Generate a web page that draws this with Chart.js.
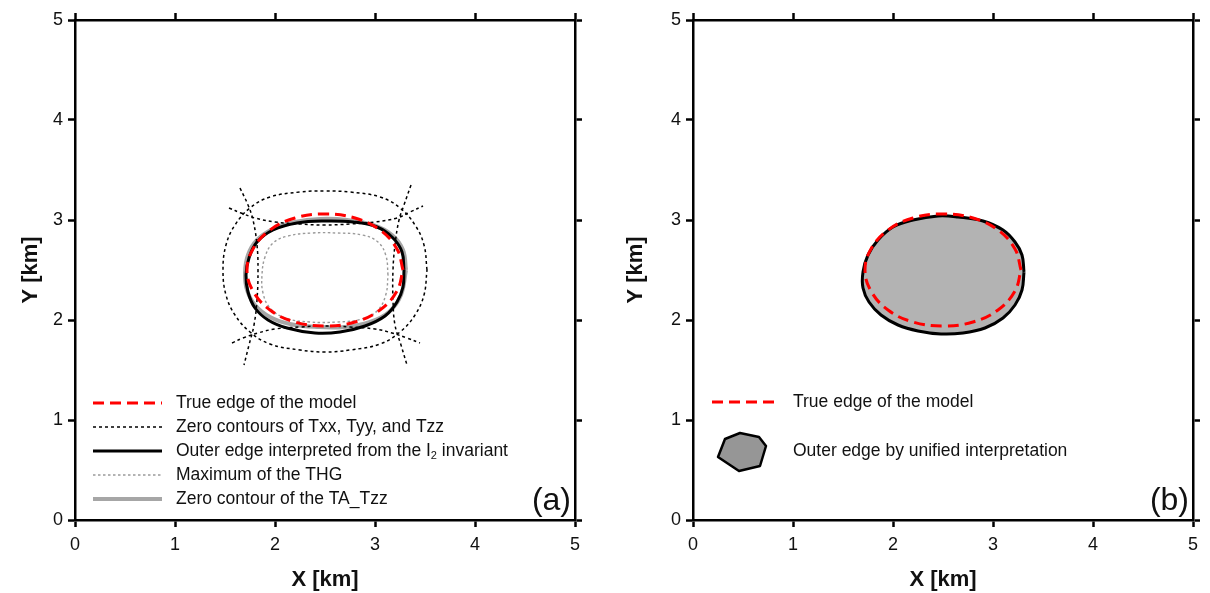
<!DOCTYPE html>
<html>
<head>
<meta charset="utf-8">
<script src="https://cdn.jsdelivr.net/npm/chart.js@4.4.1/dist/chart.umd.min.js"></script>
<style>
  html, body { margin: 0; padding: 0; background: #fff; }
  #wrap { position: relative; width: 1210px; height: 593px; }
  canvas { position: absolute; top: 0; }
  #chartA { left: 0; }
  #chartB { left: 605px; }
</style>
</head>
<body>
<div id="wrap">
  <canvas id="chartA" width="605" height="593"></canvas>
  <canvas id="chartB" width="605" height="593"></canvas>
</div>
<script>
// axis ticks (km)
const tickValues = [0, 1, 2, 3, 4, 5];

// true edge of the model (both panels)
const trueEdgeX = [3.28, 3.22, 3.05, 2.80, 2.50, 2.20, 1.95, 1.78, 1.72, 1.78, 1.95, 2.20, 2.50, 2.80, 3.05, 3.22, 3.28];
const trueEdgeY = [2.50, 2.71, 2.90, 3.02, 3.06, 3.02, 2.90, 2.71, 2.50, 2.29, 2.10, 1.98, 1.94, 1.98, 2.10, 2.29, 2.50];

// zero contours of Txx, Tyy, Tzz
const tzzLoopX = [3.52, 3.49, 3.40, 3.25, 3.05, 2.75, 2.50, 2.25, 1.95, 1.75, 1.60, 1.51, 1.48, 1.51, 1.60, 1.75, 1.95, 2.25, 2.50, 2.75, 3.05, 3.25, 3.40, 3.49, 3.52];
const tzzLoopY = [2.50, 2.75, 2.95, 3.12, 3.23, 3.28, 3.29, 3.28, 3.23, 3.12, 2.95, 2.75, 2.50, 2.25, 2.05, 1.88, 1.76, 1.70, 1.68, 1.70, 1.76, 1.88, 2.05, 2.25, 2.50];
const txxLeftX = [1.65, 1.73, 1.78, 1.82, 1.83, 1.82, 1.79, 1.74, 1.69];
const txxLeftY = [3.32, 3.15, 3.00, 2.75, 2.50, 2.20, 1.95, 1.75, 1.55];
const txxRightX = [3.36, 3.29, 3.24, 3.20, 3.18, 3.18, 3.20, 3.26, 3.32];
const txxRightY = [3.35, 3.15, 3.00, 2.75, 2.50, 2.20, 1.95, 1.75, 1.55];
const tyyTopX = [1.54, 1.66, 1.80, 2.00, 2.25, 2.50, 2.75, 3.00, 3.22, 3.35, 3.48];
const tyyTopY = [3.12, 3.07, 3.02, 2.98, 2.96, 2.95, 2.96, 2.98, 3.02, 3.08, 3.14];
const tyyBottomX = [1.57, 1.68, 1.83, 2.00, 2.25, 2.50, 2.75, 3.00, 3.17, 3.32, 3.45];
const tyyBottomY = [1.77, 1.82, 1.87, 1.91, 1.93, 1.94, 1.93, 1.91, 1.87, 1.82, 1.77];

// outer edge from the I2 invariant
const i2EdgeX = [3.29, 3.27, 3.18, 3.02, 2.78, 2.50, 2.22, 1.98, 1.82, 1.74, 1.71, 1.73, 1.80, 1.93, 2.12, 2.40, 2.65, 2.90, 3.10, 3.22, 3.28, 3.29];
const i2EdgeY = [2.50, 2.68, 2.82, 2.93, 2.98, 2.99, 2.97, 2.90, 2.78, 2.62, 2.45, 2.28, 2.12, 2.00, 1.92, 1.87, 1.88, 1.94, 2.04, 2.18, 2.33, 2.50];

// maximum of the THG
const thgX = [3.13, 3.11, 3.03, 2.87, 2.62, 2.37, 2.13, 1.98, 1.90, 1.87, 1.88, 1.95, 2.10, 2.35, 2.62, 2.87, 3.03, 3.11, 3.13];
const thgY = [2.45, 2.64, 2.78, 2.85, 2.87, 2.87, 2.84, 2.77, 2.63, 2.45, 2.27, 2.12, 2.02, 1.98, 1.98, 2.01, 2.10, 2.26, 2.45];

// zero contour of the TA_Tzz
const taTzzX = [3.31, 3.28, 3.17, 2.98, 2.72, 2.45, 2.20, 1.98, 1.82, 1.73, 1.70, 1.72, 1.80, 1.95, 2.15, 2.42, 2.70, 2.95, 3.14, 3.26, 3.31];
const taTzzY = [2.50, 2.70, 2.85, 2.95, 3.00, 3.01, 2.98, 2.91, 2.80, 2.65, 2.47, 2.30, 2.15, 2.03, 1.96, 1.93, 1.93, 1.98, 2.08, 2.25, 2.50];

// panel (b): outer edge by unified interpretation
const unifiedX = [3.31, 3.29, 3.22, 3.10, 2.90, 2.65, 2.45, 2.20, 2.00, 1.85, 1.75, 1.70, 1.70, 1.76, 1.88, 2.05, 2.25, 2.48, 2.70, 2.92, 3.10, 3.22, 3.29, 3.31];
const unifiedY = [2.48, 2.65, 2.78, 2.90, 2.99, 3.03, 3.04, 3.00, 2.93, 2.80, 2.65, 2.48, 2.32, 2.18, 2.05, 1.95, 1.89, 1.86, 1.87, 1.92, 2.02, 2.15, 2.30, 2.48];

const FONT = "'Liberation Sans', Arial, sans-serif";
const pts = (xs, ys) => xs.map((x, i) => ({ x: x, y: ys[i] }));

function curve(label, xs, ys, color, width, dash, extra) {
  return Object.assign({
    label: label,
    data: pts(xs, ys),
    showLine: true,
    borderColor: color,
    backgroundColor: color,
    borderWidth: width,
    borderDash: dash,
    pointRadius: 0,
    tension: 0.4,
    fill: false
  }, extra || {});
}

function axis(pos, showLabels, size, title) {
  const s = {
    type: 'linear', position: pos, min: 0, max: 5,
    border: { color: '#000', width: 2.5 },
    grid: { drawOnChartArea: false, drawTicks: true, tickLength: 7, tickWidth: 2.5, tickColor: '#000' },
    ticks: {
      display: showLabels, stepSize: 1, color: '#111',
      font: { family: FONT, size: 18 },
      padding: pos === 'bottom' ? 7 : 5,
      callback: v => tickValues.includes(v) ? String(v) : ''
    },
    afterFit: sc => { if (sc.isHorizontal()) sc.height = size; else sc.width = size; }
  };
  if (title) {
    s.title = {
      display: true, text: title, color: '#111',
      font: { family: FONT, size: 22, weight: 'bold', lineHeight: 1.2 },
      padding: { top: pos === 'bottom' ? 3 : 18, bottom: 0 }
    };
  }
  return s;
}

const boxLegend = {
  id: 'boxLegend',
  afterDraw(chart, args, opts) {
    const ctx = chart.ctx;
    const left = chart.chartArea.left;
    ctx.save();
    let row = 0;
    chart.data.datasets.forEach(ds => {
      if (!ds.inLegend) return;
      const y = opts.y0 + row * opts.dy;
      row++;
      if (ds.icon === 'hexagon') {
        const hx = [32, 47, 66, 73, 67, 46, 25];
        const hy = [-12, -18, -14, -5, 15, 20, 6];
        ctx.beginPath();
        hx.forEach((v, i) => i ? ctx.lineTo(left + v, y + hy[i]) : ctx.moveTo(left + v, y + hy[i]));
        ctx.closePath();
        ctx.fillStyle = '#969696';
        ctx.fill();
        ctx.lineWidth = 2.5;
        ctx.strokeStyle = '#000';
        ctx.lineJoin = 'round';
        ctx.stroke();
      } else {
        ctx.beginPath();
        ctx.setLineDash(ds.borderDash || []);
        ctx.lineWidth = ds.legendWidth || ds.borderWidth;
        ctx.strokeStyle = ds.borderColor;
        ctx.moveTo(left + opts.x0, y);
        ctx.lineTo(left + opts.x1, y);
        ctx.stroke();
        ctx.setLineDash([]);
      }
      // text, odd parts are subscripts
      const parts = Array.isArray(ds.legendText) ? ds.legendText : [ds.label];
      let tx = left + opts.tx;
      ctx.fillStyle = '#111';
      ctx.textAlign = 'left';
      ctx.textBaseline = 'middle';
      parts.forEach((p, i) => {
        const sub = i % 2 === 1;
        ctx.font = (sub ? 11 : 17.5) + 'px ' + FONT;
        ctx.fillText(p, tx, sub ? y + 5 : y);
        tx += ctx.measureText(p).width;
      });
    });
    // panel tag
    ctx.font = '32px ' + FONT;
    ctx.textAlign = 'right';
    ctx.textBaseline = 'alphabetic';
    ctx.fillStyle = '#111';
    ctx.fillText(opts.tag, chart.chartArea.right - 4, chart.chartArea.bottom - 10);
    ctx.restore();
  }
};

function baseOptions(leftW, rightW, legendOpts) {
  return {
    responsive: false,
    animation: false,
    devicePixelRatio: 1,
    layout: { padding: 0 },
    plugins: { legend: { display: false }, tooltip: { enabled: false }, boxLegend: legendOpts },
    scales: {
      x: axis('bottom', true, 73, 'X [km]'),
      x2: axis('top', false, 20),
      y: axis('left', true, leftW, 'Y [km]'),
      y2: axis('right', false, rightW)
    }
  };
}

const RED = '#ff0000';
const dotted = [3, 3];

new Chart(document.getElementById('chartA'), {
  type: 'scatter',
  data: {
    datasets: [
      curve('True edge of the model', trueEdgeX, trueEdgeY, RED, 3, [11, 6], { inLegend: true }),
      curve('Zero contours of Txx, Tyy, and Tzz', tzzLoopX, tzzLoopY, '#000', 1.5, dotted, { inLegend: true }),
      curve('Txx left', txxLeftX, txxLeftY, '#000', 1.5, dotted),
      curve('Txx right', txxRightX, txxRightY, '#000', 1.5, dotted),
      curve('Tyy top', tyyTopX, tyyTopY, '#000', 1.5, dotted),
      curve('Tyy bottom', tyyBottomX, tyyBottomY, '#000', 1.5, dotted),
      curve('Outer edge interpreted from the I2 invariant', i2EdgeX, i2EdgeY, '#000', 3, [],
        { inLegend: true, legendText: ['Outer edge interpreted from the I', '2', ' invariant'] }),
      curve('Maximum of the THG', thgX, thgY, '#9a9a9a', 1.4, [2.5, 2.5], { inLegend: true }),
      curve('Zero contour of the TA_Tzz', taTzzX, taTzzY, '#a6a6a6', 4, [], { inLegend: true })
    ]
  },
  options: baseOptions(75, 30, { x0: 18, x1: 87, tx: 101, y0: 403, dy: 24, tag: '(a)' }),
  plugins: [boxLegend]
});

new Chart(document.getElementById('chartB'), {
  type: 'scatter',
  data: {
    datasets: [
      curve('True edge of the model', trueEdgeX, trueEdgeY, RED, 3, [11, 6], { inLegend: true }),
      curve('Outer edge by unified interpretation', unifiedX, unifiedY, '#000', 3, [],
        { inLegend: true, icon: 'hexagon', backgroundColor: '#b3b3b3', fill: 'shape' })
    ]
  },
  options: baseOptions(88, 17, { x0: 19, x1: 83, tx: 100, y0: 402, dy: 49, tag: '(b)' }),
  plugins: [boxLegend]
});
</script>
</body>
</html>
